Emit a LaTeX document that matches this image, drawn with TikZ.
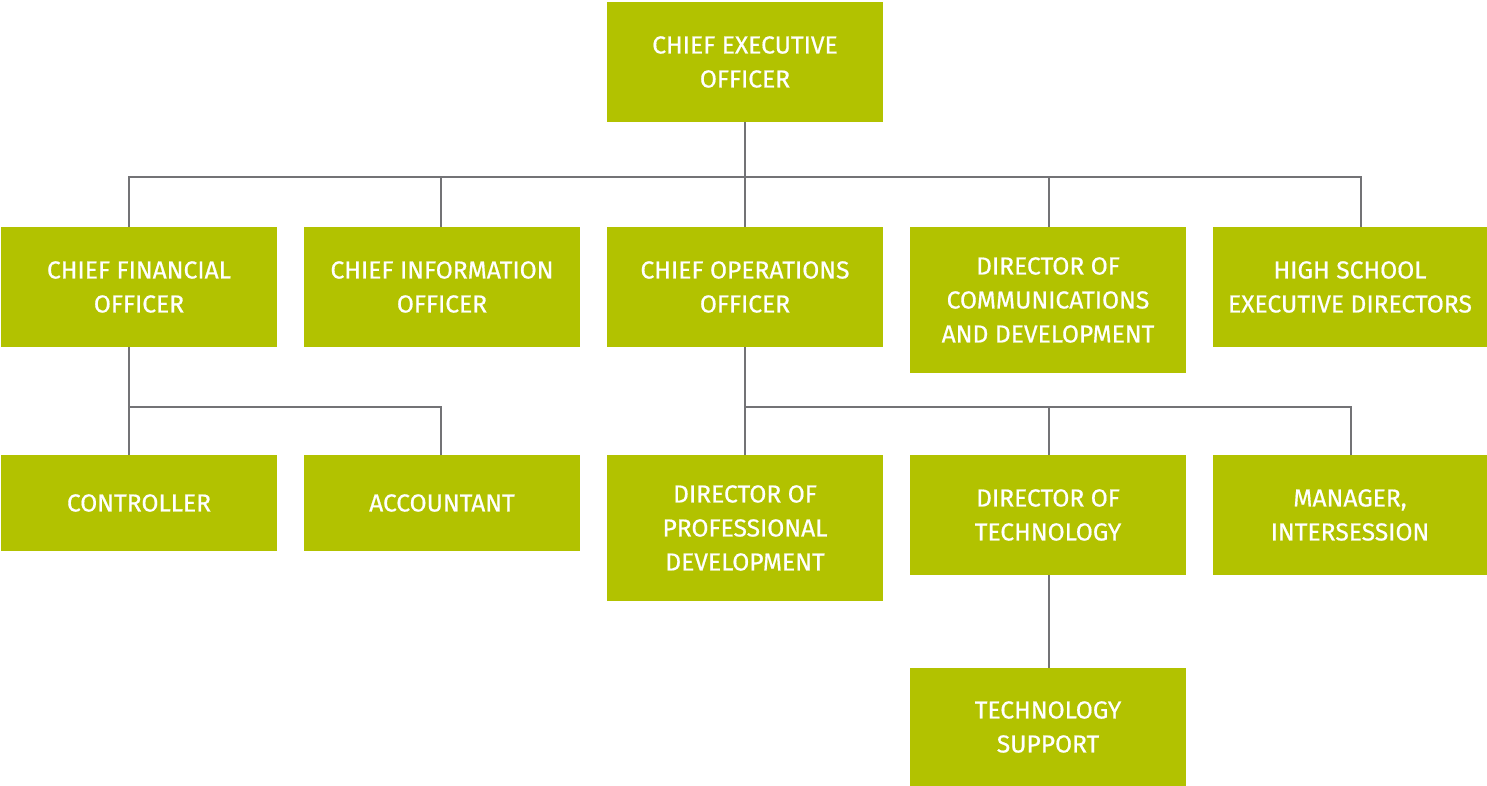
\documentclass[tikz,border=0pt]{standalone}
\usepackage{fontspec}
\setmainfont{Fira Sans}
\newfontfamily\postfont{Fira Sans}[FakeBold=0.6]
\definecolor{leaf}{RGB}{178,194,0}
\definecolor{wire}{RGB}{115,115,118}
\tikzset{
  post/.style={fill=leaf,text=white,align=center,inner sep=0pt,
    minimum width=138pt,minimum height=60pt,
    font=\postfont\fontsize{12.3}{17}\selectfont},
  link/.style={wire,line width=1pt}
}
\begin{document}
\begin{tikzpicture}[x=0.5pt,y=-0.5pt]
    \useasboundingbox (0,0) rectangle (1487,786);
    \node[post] (ceo) at (745,62) {CHIEF EXECUTIVE\\OFFICER};
    \node[post] (cfo) at (139,287) {CHIEF FINANCIAL\\OFFICER};
    \node[post] (cio) at (442,287) {CHIEF INFORMATION\\OFFICER};
    \node[post] (coo) at (745,287) {CHIEF OPERATIONS\\OFFICER};
    \node[post,minimum height=73pt] (dcd) at (1048,300) {DIRECTOR OF\\COMMUNICATIONS\\AND DEVELOPMENT};
    \node[post,minimum width=137pt] (hsed) at (1350,287) {HIGH SCHOOL\\EXECUTIVE DIRECTORS};
    \node[post,minimum height=48pt] (ctrl) at (139,503) {CONTROLLER};
    \node[post,minimum height=48pt] (acct) at (442,503) {ACCOUNTANT};
    \node[post,minimum height=73pt] (dpd) at (745,528) {DIRECTOR OF\\PROFESSIONAL\\DEVELOPMENT};
    \node[post] (dtech) at (1048,515) {DIRECTOR OF\\TECHNOLOGY};
    \node[post,minimum width=137pt] (mgr) at (1350,515) {MANAGER,\\INTERSESSION};
    \node[post,minimum height=59pt] (tsupp) at (1048,727) {TECHNOLOGY\\SUPPORT};

    \coordinate (top bus) at (745,177);
    \coordinate (fin bus) at (129,407);
    \coordinate (ops bus) at (745,407);

    \draw[link] (ceo.south) -- (top bus);
    \foreach \n/\dx in {cfo/-10,cio/-1,coo/0,dcd/1,hsed/11}
        \draw[link] (top bus) -| ([xshift=\dx*0.5pt]\n.north);
    \draw[link] ([xshift=-5pt]cfo.south) -- ([xshift=-5pt]ctrl.north);
    \draw[link] (fin bus) -| ([xshift=-0.5pt]acct.north);
    \draw[link] (coo.south) -- (dpd.north);
    \foreach \n in {dtech,mgr}
        \draw[link] (ops bus) -| ([xshift=0.5pt]\n.north);
    \draw[link] ([xshift=0.5pt]dtech.south) -- ([xshift=0.5pt]tsupp.north);
\end{tikzpicture}
\end{document}
